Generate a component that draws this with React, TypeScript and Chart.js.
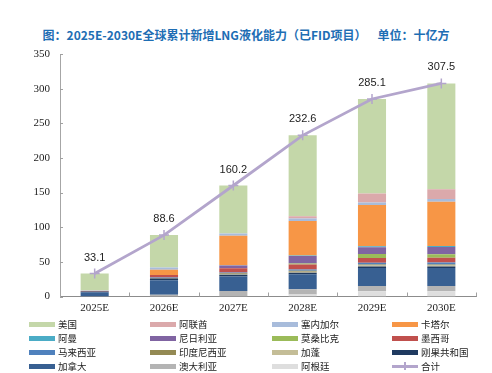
import React, { useEffect, useRef } from "react";
import { Chart, registerables } from "chart.js";

Chart.register(...registerables);

const categories = ["2025E", "2026E", "2027E", "2028E", "2029E", "2030E"];

// Series in legend order (top of stack first)
const seriesNames = [
  "美国", "阿联酋", "塞内加尔", "卡塔尔",
  "阿曼", "尼日利亚", "莫桑比克", "墨西哥",
  "马来西亚", "印度尼西亚", "加蓬", "刚果共和国",
  "加拿大", "澳大利亚", "阿根廷",
];
const seriesColors = [
  "#C4D7A9", "#DBA9AB", "#A8BCDB", "#F79646",
  "#4BACC6", "#8064A2", "#9BBB59", "#C0504D",
  "#4F81BD", "#948A54", "#C4BD97", "#1F3A60",
  "#386092", "#B4B4B4", "#DEDEDE",
];

const usa = [24.5, 46.7, 69.1, 116.7, 136.3, 152.7];
const uae = [0.3, 0, 0, 3.5, 13, 14];
const senegal = [0.3, 3.3, 3.5, 3.5, 3.8, 3.9];
const qatar = [0, 7.7, 42.4, 49.8, 59.3, 64];
const oman = [0, 0, 0.5, 0.5, 1.5, 1.5];
const nigeria = [0, 0, 3.9, 11, 10, 10.5];
const mozambique = [0, 0, 0, 1.5, 5.8, 4.8];
const mexico = [0.8, 3.5, 6.2, 7.2, 6.8, 7.2];
const malaysia = [0, 0.8, 1.2, 1.8, 2.5, 2.8];
const indonesia = [0, 0.7, 1.2, 1.5, 1.5, 1.5];
const gabon = [0, 0, 0.8, 1.2, 1.2, 1.2];
const congo = [1.2, 2.4, 2.4, 2.4, 2.4, 2.4];
const canada = [6.0, 21, 21, 21.5, 26, 26];
const australia = [0, 2.5, 8, 7.5, 7.5, 7.5];
const argentina = [0, 0, 0, 3, 7.5, 7.5];
const totals = [33.1, 88.6, 160.2, 232.6, 285.1, 307.5];

const seriesValues = [
  usa, uae, senegal, qatar,
  oman, nigeria, mozambique, mexico,
  malaysia, indonesia, gabon, congo,
  canada, australia, argentina,
];

const totalName = "合计";
const totalColor = "#B3A5CC";
const yTicks = [0, 50, 100, 150, 200, 250, 300, 350];

const CJK = '"Noto Sans CJK SC", "Noto Sans", sans-serif';
const SERIF = '"Liberation Serif", "Times New Roman", serif';

export default function App() {
  const ref = useRef<HTMLCanvasElement | null>(null);

  useEffect(() => {
    if (!ref.current) return;
    const barSets = seriesNames
      .map((name, i) => ({
        type: "bar" as const,
        label: name,
        data: seriesValues[i],
        backgroundColor: seriesColors[i],
        borderWidth: 0,
        order: 1,
        barPercentage: 0.9,
        categoryPercentage: 0.45,
      }))
      .reverse();

    const tickPlugin = {
      id: "innerTicks",
      afterDraw(chart: any) {
        const ctx = chart.ctx;
        const ys = chart.scales.y;
        const xs = chart.scales.x;
        const area = chart.chartArea;
        ctx.save();
        ctx.strokeStyle = "#A0A0A0";
        ctx.lineWidth = 1;
        ctx.beginPath();
        yTicks.forEach((v) => {
          const y = Math.round(ys.getPixelForValue(v)) + 0.5;
          ctx.moveTo(area.left, y);
          ctx.lineTo(area.left + 3, y);
        });
        const n = categories.length;
        for (let i = 0; i < n; i++) {
          const x =
            i < n - 1
              ? (xs.getPixelForTick(i) + xs.getPixelForTick(i + 1)) / 2
              : area.right;
          const xx = Math.round(x) + 0.5;
          ctx.moveTo(xx, area.bottom);
          ctx.lineTo(xx, area.bottom - 4);
        }
        ctx.stroke();
        ctx.restore();
      },
      afterDatasetsDraw(chart: any) {
        const ctx = chart.ctx;
        const meta = chart.getDatasetMeta(0);
        ctx.save();
        ctx.fillStyle = "#222";
        ctx.font = '11px "Liberation Sans", Arial, sans-serif';
        ctx.textAlign = "center";
        ctx.textBaseline = "middle";
        meta.data.forEach((pt: any, i: number) => {
          ctx.fillText(totals[i].toFixed(1), pt.x, pt.y - 16);
        });
        ctx.restore();
      },
    };

    const chart = new Chart(ref.current, {
      data: {
        labels: categories,
        datasets: [
          {
            type: "line" as const,
            label: totalName,
            data: totals,
            borderColor: totalColor,
            backgroundColor: totalColor,
            borderWidth: 2.8,
            pointStyle: "cross",
            pointRadius: 5,
            pointBorderWidth: 1.5,
            pointBorderColor: totalColor,
            order: 0,
            tension: 0,
          },
          ...barSets,
        ] as any,
      },
      options: {
        animation: false,
        responsive: false,
        layout: { padding: { top: 54, right: 16, left: 0, bottom: 0 } },
        plugins: {
          legend: { display: false },
          title: { display: false },
          tooltip: { enabled: false },
        },
        scales: {
          x: {
            stacked: true,
            grid: { display: false, drawTicks: false, tickLength: 0 },
            border: { display: true, color: "#8C8C8C", width: 1 },
            ticks: {
              color: "#222",
              padding: 5,
              font: { family: SERIF, size: 11 },
            },
            afterFit: (s: any) => {
              s.height = 21.5;
            },
          },
          y: {
            stacked: true,
            min: 0,
            max: 350,
            grid: { display: false, drawTicks: false, tickLength: 0 },
            border: { display: true, color: "#A6A6A6", width: 1 },
            ticks: {
              stepSize: 50,
              color: "#222",
              padding: 10,
              font: { family: SERIF, size: 11 },
            },
            afterFit: (s: any) => {
              s.width = 60;
            },
          },
        },
      },
      plugins: [tickPlugin],
    } as any);
    return () => chart.destroy();
  }, []);

  const legendItems = [
    ...seriesNames.map((n, i) => ({ name: n, color: seriesColors[i], line: false })),
    { name: totalName, color: totalColor, line: true },
  ];
  const colX = [29, 150, 272, 392];
  const rowY = [324, 338, 352, 366];

  return (
    <div
      style={{
        position: "fixed",
        left: 0,
        top: 0,
        width: 492,
        height: 373,
        background: "#fff",
        overflow: "hidden",
      }}
    >
      <div
        style={{
          position: "absolute",
          left: 0,
          width: 492,
          top: 27,
          textAlign: "center",
          fontFamily: CJK,
          fontWeight: 700,
          fontSize: 12,
          lineHeight: "16px",
          color: "#1E6EB4",
          whiteSpace: "pre",
          paddingRight: 2,
        }}
      >
        {"图：2025E-2030E全球累计新增LNG液化能力（已FID项目）    单位：十亿方"}
      </div>
      <canvas
        ref={ref}
        width={492}
        height={318}
        style={{ position: "absolute", left: 0, top: 0, width: 492, height: 318 }}
      />
      {legendItems.map((it, i) => {
        const c = i % 4;
        const r = Math.floor(i / 4);
        const x = colX[c];
        const y = rowY[r];
        return (
          <div
            key={it.name}
            style={{
              position: "absolute",
              left: x,
              top: y - 7,
              height: 14,
              display: "flex",
              alignItems: "center",
              fontFamily: CJK,
              fontSize: 9.5,
              color: "#222",
              whiteSpace: "nowrap",
            }}
          >
            <div style={{ position: "relative", width: 26, height: 14, marginRight: 3 }}>
              <div
                style={{
                  position: "absolute",
                  left: 0,
                  top: it.line ? 5.5 : 4.5,
                  width: 26,
                  height: it.line ? 3 : 5,
                  background: it.color,
                }}
              />
              {it.line ? (
                <div
                  style={{
                    position: "absolute",
                    left: 12,
                    top: 3,
                    width: 1.5,
                    height: 8,
                    background: it.color,
                  }}
                />
              ) : null}
            </div>
            <span>{it.name}</span>
          </div>
        );
      })}
    </div>
  );
}
